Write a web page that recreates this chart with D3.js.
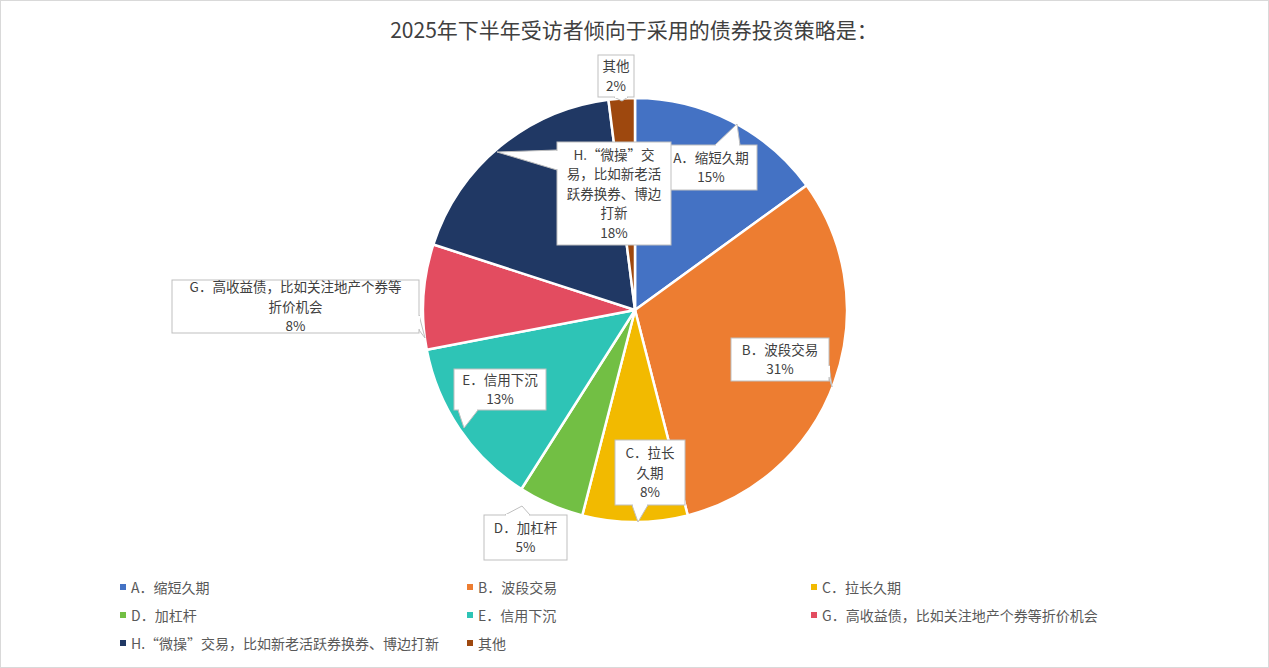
<!DOCTYPE html>
<html><head><meta charset="utf-8">
<script src="https://cdn.jsdelivr.net/npm/d3@7"></script>
<style>body{margin:0;background:#fff}text{font-family:"Noto Sans CJK SC","Noto Sans",sans-serif}</style>
</head><body><svg id="c" width="1269" height="668"></svg>
<script>
const categories=["A．缩短久期","B．波段交易","C．拉长久期","D．加杠杆","E．信用下沉","G．高收益债，比如关注地产个券等折价机会","H.“微操”交易，比如新老活跃券换券、博边打新","其他"];
const values=[15,31,8,5,13,8,18,2];
const colors=["#4472C4","#ED7D31","#F2BA00","#72BF44","#2EC4B6","#E34C60","#203864","#9E480E"];
const labelLines=[["A．缩短久期","15%"],["B．波段交易","31%"],["C．拉长","久期","8%"],["D．加杠杆","5%"],["E．信用下沉","13%"],["G．高收益债，比如关注地产个券等","折价机会","8%"],["H.“微操”交","易，比如新老活","跃券换券、博边","打新","18%"],["其他","2%"]];
// box layout: x,y,w,h, pointer tip, pointer base side
const boxes=[
 {x:665,y:145,w:92,h:45,tip:[737,124],side:"top",b:[715,740]},
 {x:731,y:338,w:98,h:43,tip:[832,387],side:"right",b:[365,378]},
 {x:615,y:440,w:70,h:65,tip:[638,522],side:"bottom",b:[632,648]},
 {x:484,y:515,w:83,h:45,tip:[522,506],side:"top",b:[505,530]},
 {x:454,y:369,w:92,h:41,tip:[464,428],side:"bottom",b:[458,478]},
 {x:172,y:280,w:247,h:53,tip:[425,338],side:"right",b:[315,330]},
 {x:557,y:142,w:114,h:103,tip:[497,152],side:"left",b:[150,170]},
 {x:598,y:55,w:36,h:42,tip:[622,101],side:"bottom",b:[614,628]}
];
const svg=d3.select("#c");
svg.append("rect").attr("x",0.5).attr("y",0.5).attr("width",1268).attr("height",667).attr("fill","#fff").attr("stroke","#d9d9d9");
svg.append("text").attr("x",634).attr("y",38).attr("text-anchor","middle").attr("font-size",21).attr("fill","#404040").text("2025年下半年受访者倾向于采用的债券投资策略是：");
const cx=635,cy=310,r=212;
const pie=d3.pie().sort(null).value(d=>d)(values);
const arc=d3.arc().innerRadius(0).outerRadius(r);
const g=svg.append("g").attr("transform",`translate(${cx},${cy})`);
g.selectAll("path").data(pie).join("path").attr("d",arc).attr("fill",(d,i)=>colors[i]).attr("stroke","#fff").attr("stroke-width",2.5);
const L=svg.append("g");
boxes.forEach((b,i)=>{
  let p1,p2;
  if(b.side==="top"){p1=[b.b[0],b.y];p2=[b.b[1],b.y];}
  else if(b.side==="bottom"){p1=[b.b[0],b.y+b.h];p2=[b.b[1],b.y+b.h];}
  else if(b.side==="right"){p1=[b.x+b.w,b.b[0]];p2=[b.x+b.w,b.b[1]];}
  else {p1=[b.x,b.b[0]];p2=[b.x,b.b[1]];}
  L.append("polygon").attr("points",[p1,b.tip,p2].map(p=>p.join(",")).join(" ")).attr("fill","#fff").attr("stroke","#bfbfbf");
  L.append("rect").attr("x",b.x).attr("y",b.y).attr("width",b.w).attr("height",b.h).attr("fill","#fff").attr("stroke","#bfbfbf");
  const inset=(b.side==="top"||b.side==="bottom")?[[p1[0]+1,p1[1]],[p2[0]-1,p2[1]]]:[[p1[0],p1[1]+1],[p2[0],p2[1]-1]];
  L.append("line").attr("x1",inset[0][0]).attr("y1",inset[0][1]).attr("x2",inset[1][0]).attr("y2",inset[1][1]).attr("stroke","#fff").attr("stroke-width",2);
  const lines=labelLines[i],lh=19.5;
  const t0=b.y+b.h/2-(lines.length-1)*lh/2+5;
  lines.forEach((s,j)=>L.append("text").attr("x",b.x+b.w/2).attr("y",t0+j*lh).attr("text-anchor","middle").attr("font-size",13.5).attr("fill","#404040").text(s));
});
const lx=[120,467,811],ly=[588,616,644];
const lg=svg.append("g");
categories.forEach((c,i)=>{
  const x=lx[i%3],y=ly[Math.floor(i/3)];
  lg.append("rect").attr("x",x).attr("y",y-4).attr("width",6).attr("height",6).attr("fill",colors[i]);
  lg.append("text").attr("x",x+11).attr("y",y+4.5).attr("font-size",14).attr("fill","#595959").text(c);
});
</script></body></html>
